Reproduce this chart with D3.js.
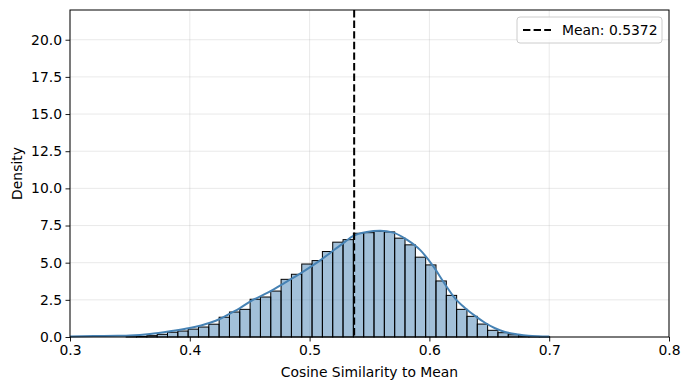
<!DOCTYPE html>
<html>
<head>
<meta charset="utf-8">
<script src="https://cdn.jsdelivr.net/npm/d3@7"></script>
<style>
  body { margin: 0; background: #fff; }
  svg text { font-family: "DejaVu Sans", sans-serif; fill: #000; }
</style>
</head>
<body>
<svg id="chart" width="690" height="390"></svg>
<script>
// histogram: bins of equal width, left edge of first bin + density of each bin
const binStart = 0.3469
const binWidth = 0.00862
const density = [0.02, 0.04, 0.09, 0.18, 0.32, 0.40, 0.53, 0.67, 0.86, 1.33,
  1.68, 1.86, 2.54, 2.69, 3.09, 3.88, 4.22, 4.91, 5.14, 5.75,
  6.38, 6.55, 6.98, 7.02, 7.11, 7.07, 6.65, 6.20, 5.37, 4.85,
  3.77, 2.80, 1.86, 1.39, 0.87, 0.45, 0.29, 0.15, 0.08, 0.04, 0.02]

// kde curve
const kdeX = [0.30, 0.32, 0.34, 0.35, 0.3668, 0.3835, 0.40, 0.4169, 0.425, 0.4335,
  0.4419, 0.4517, 0.4655, 0.4795, 0.4934, 0.5073, 0.5212, 0.5295, 0.5365, 0.5477,
  0.5588, 0.5699, 0.5811, 0.5922, 0.6033, 0.6130, 0.6214, 0.6297, 0.6381, 0.6464,
  0.6548, 0.6631, 0.6742, 0.6826, 0.70]
const kdeY = [0.04, 0.06, 0.08, 0.10, 0.20, 0.38, 0.60, 0.96, 1.21, 1.58,
  1.95, 2.45, 3.00, 3.66, 4.33, 5.07, 5.90, 6.40, 6.80, 7.06,
  7.14, 7.02, 6.55, 5.86, 4.75, 3.55, 2.60, 1.95, 1.42, 0.96,
  0.59, 0.34, 0.17, 0.09, 0.03]

const meanValue = 0.5372
const xTicks = [0.3, 0.4, 0.5, 0.6, 0.7, 0.8]
const yTicks = [0, 2.5, 5, 7.5, 10, 12.5, 15, 17.5, 20]

const margin = {top: 10, right: 21, bottom: 53, left: 70}
const W = 690, H = 390
const iw = W - margin.left - margin.right
const ih = H - margin.top - margin.bottom
const color = 'steelblue'
const fs = '13.9px'

const svg = d3.select('#chart')
const g = svg.append('g').attr('transform', `translate(${margin.left},${margin.top})`)

const x = d3.scaleLinear().domain([0.3, 0.8]).range([0, iw])
const y = d3.scaleLinear().domain([0, 22]).range([ih, 0])

// grid
g.append('g').selectAll('line.gx')
  .data(xTicks).enter().append('line')
    .attr('x1', d => x(d)).attr('x2', d => x(d))
    .attr('y1', 0).attr('y2', ih)
    .style('stroke', '#b0b0b0').style('stroke-opacity', 0.35).style('stroke-width', 0.8)
g.append('g').selectAll('line.gy')
  .data(yTicks).enter().append('line')
    .attr('x1', 0).attr('x2', iw)
    .attr('y1', d => y(d)).attr('y2', d => y(d))
    .style('stroke', '#b0b0b0').style('stroke-opacity', 0.35).style('stroke-width', 0.8)

// bars
g.append('g').selectAll('rect')
  .data(density).enter().append('rect')
    .attr('x', (d, i) => x(binStart + i * binWidth))
    .attr('y', d => y(d))
    .attr('width', x(binStart + binWidth) - x(binStart))
    .attr('height', d => ih - y(d))
    .style('fill', color).style('fill-opacity', 0.5)
    .style('stroke', '#000').style('stroke-width', 1)

// kde
const kde = d3.line()
  .x(d => x(d[0])).y(d => y(d[1]))
  .curve(d3.curveMonotoneX)
g.append('path')
  .datum(kdeX.map((v, i) => [v, kdeY[i]]))
  .attr('d', kde)
  .style('fill', 'none').style('stroke', color).style('stroke-width', 2)

// mean line
g.append('line')
  .attr('x1', x(meanValue)).attr('x2', x(meanValue))
  .attr('y1', 0).attr('y2', ih)
  .style('stroke', '#000').style('stroke-width', 2).style('stroke-dasharray', '7.4,3.2')

// axes
const xAxis = g.append('g').attr('transform', `translate(0,${ih})`)
  .call(d3.axisBottom(x).tickValues(xTicks).tickFormat(d3.format('.1f')).tickSizeOuter(0).tickSize(4.5).tickPadding(3.5))
const yAxis = g.append('g')
  .call(d3.axisLeft(y).tickValues(yTicks).tickFormat(d3.format('.1f')).tickSizeOuter(0).tickSize(4.5).tickPadding(3.5))
;[xAxis, yAxis].forEach(a => {
  a.select('.domain').remove()
  a.selectAll('text').style('font-size', fs).style('font-family', '"DejaVu Sans", sans-serif')
  a.selectAll('line').style('stroke', '#000').style('stroke-width', 0.9)
})

// frame
g.append('rect')
  .attr('x', 0).attr('y', 0).attr('width', iw).attr('height', ih)
  .style('fill', 'none').style('stroke', '#000').style('stroke-width', 1)

// labels
svg.append('text')
  .attr('x', margin.left + iw / 2).attr('y', 377)
  .attr('text-anchor', 'middle').style('font-size', fs)
  .text('Cosine Similarity to Mean')
svg.append('text')
  .attr('transform', `translate(22,${margin.top + ih / 2}) rotate(-90)`)
  .attr('text-anchor', 'middle').style('font-size', fs)
  .text('Density')

// legend
const lg = svg.append('g').attr('transform', 'translate(517,17)')
lg.append('rect')
  .attr('width', 145).attr('height', 26).attr('rx', 3)
  .style('fill', '#fff').style('fill-opacity', 0.8)
  .style('stroke', '#ccc').style('stroke-width', 1)
lg.append('line')
  .attr('x1', 6).attr('x2', 34).attr('y1', 13).attr('y2', 13)
  .style('stroke', '#000').style('stroke-width', 2).style('stroke-dasharray', '7.4,3.2')
lg.append('text')
  .attr('x', 45).attr('y', 18)
  .style('font-size', fs)
  .text('Mean: ' + meanValue.toFixed(4))
</script>
</body>
</html>
